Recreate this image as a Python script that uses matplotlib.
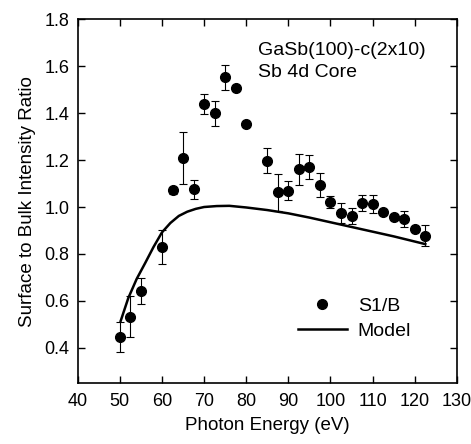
import matplotlib
matplotlib.use("Agg")
import matplotlib.pyplot as plt

matplotlib.rcParams["font.family"] = ["Liberation Sans", "DejaVu Sans"]
matplotlib.rcParams["font.size"] = 13

# S1/B data
energy = [50, 52.5, 55, 60, 62.5, 65, 67.5, 70, 72.5, 75, 77.5, 80,
          85, 87.5, 90, 92.5, 95, 97.5, 100, 102.5, 105, 107.5, 110,
          112.5, 115, 117.5, 120, 122.5]
ratio = [0.446, 0.533, 0.643, 0.831, 1.072, 1.210, 1.075, 1.438, 1.399, 1.553,
         1.508, 1.353, 1.197, 1.062, 1.069, 1.160, 1.172, 1.092, 1.021, 0.975,
         0.962, 1.016, 1.013, 0.980, 0.956, 0.948, 0.905, 0.877]
ratio_err = [0.065, 0.088, 0.055, 0.072, 0.015, 0.110, 0.040, 0.043, 0.053, 0.053,
             0.010, 0.0, 0.054, 0.080, 0.040, 0.065, 0.051, 0.051, 0.027, 0.044,
             0.035, 0.033, 0.040, 0.010, 0.012, 0.035, 0.008, 0.045]

# model curve
model_energy = [50.2, 52, 54, 56, 58, 60, 62, 64, 66, 68, 70, 73, 76, 80,
                85, 90, 95, 100, 105, 110, 115, 120, 122.5]
model_ratio = [0.515, 0.612, 0.694, 0.761, 0.830, 0.892, 0.932, 0.962, 0.980,
               0.992, 1.000, 1.004, 1.005, 0.998, 0.987, 0.973, 0.955, 0.935,
               0.915, 0.895, 0.875, 0.853, 0.842]

fig = plt.figure(figsize=(4.71, 4.44), dpi=100)
ax = fig.add_axes([0.165, 0.137, 0.805, 0.820])

ax.errorbar(energy, ratio, yerr=ratio_err, fmt="none", ecolor="black",
            elinewidth=0.8, capsize=3, capthick=0.8)
ax.plot(energy, ratio, "o", color="black", markersize=7, label="S1/B")
ax.plot(model_energy, model_ratio, color="black", linewidth=1.8, label="Model")

ax.set_xlim(40, 130)
ax.set_ylim(0.25, 1.8)
ax.set_xticks(range(40, 131, 10))
ax.set_yticks([0.4, 0.6, 0.8, 1.0, 1.2, 1.4, 1.6, 1.8])
ax.set_yticklabels(["0.4", "0.6", "0.8", "1.0", "1.2", "1.4", "1.6", "1.8"])
ax.tick_params(direction="in", top=True, right=True, length=5, width=1,
               labelsize=13)
ax.tick_params(axis="x", pad=7)
ax.tick_params(axis="y", pad=6)
for s in ax.spines.values():
    s.set_linewidth(1.2)

ax.set_xlabel("Photon Energy (eV)", fontsize=13.5, labelpad=5)
ax.set_ylabel("Surface to Bulk Intensity Ratio", fontsize=13.5, labelpad=6)

ax.text(0.476, 0.915, "GaSb(100)-c(2x10)", transform=ax.transAxes,
        va="center", fontsize=14)
ax.text(0.476, 0.852, "Sb 4d Core", transform=ax.transAxes,
        va="center", fontsize=14)

ax.legend(loc="upper left", bbox_to_anchor=(0.581, 0.236),
          frameon=False, borderpad=0, borderaxespad=0, handlelength=2.5,
          handletextpad=0.57, labelspacing=0.4, fontsize=14)

plt.savefig("out.png", dpi=100)
